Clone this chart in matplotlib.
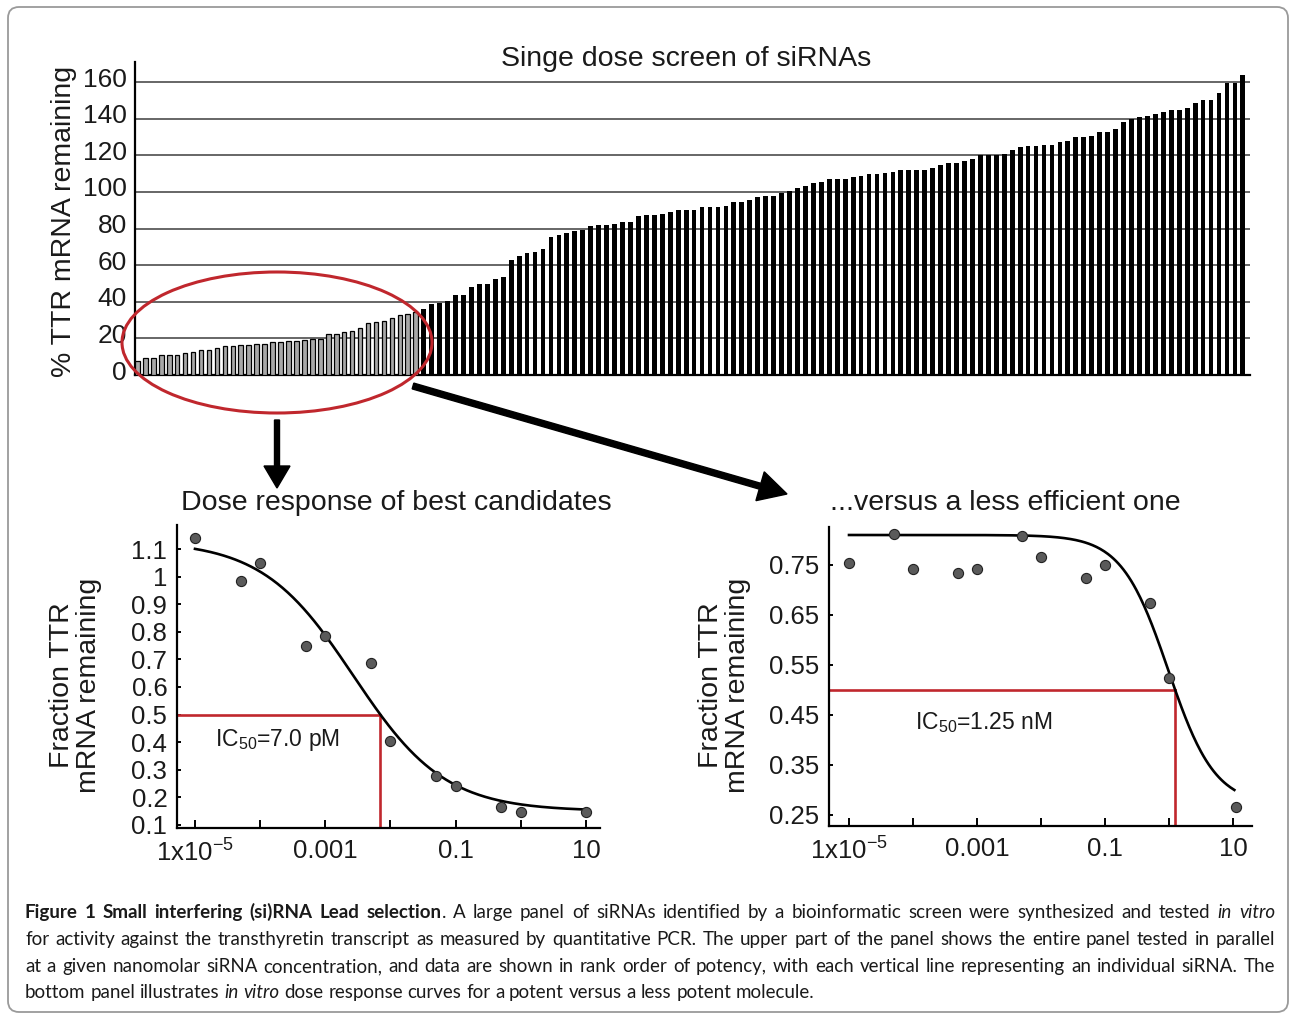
import numpy as np
import matplotlib
matplotlib.use("Agg")
import matplotlib.pyplot as plt
import matplotlib.transforms as mtransforms
from matplotlib import font_manager as fm
from matplotlib.font_manager import FontProperties
from matplotlib.patches import Ellipse, FancyBboxPatch

# ---------------- data ----------------
# single dose screen (% TTR mRNA remaining), rank ordered
screen_grey = [7.8, 9.3, 9.3, 10.7, 10.7, 10.7, 12.2, 12.7, 13.5, 13.5, 14.9, 15.6,
               15.6, 16.4, 16.4, 17.1, 17.1, 17.8, 17.8, 18.5, 18.5, 19.1, 19.8, 19.8,
               22.2, 22.2, 23.5, 24.2, 25.5, 28.2, 28.9, 29.6, 30.9, 32.7, 33.1, 34.5]
screen_black = [36.2, 38.7, 39.6, 40.5, 43.8, 43.8, 48.0, 49.5, 49.5, 52.4, 53.6, 62.9,
                64.9, 66.5, 67.1, 69.1, 75.6, 76.4, 77.6, 78.4, 79.1, 81.3, 82.0, 82.0,
                82.5, 83.5, 83.5, 86.9, 87.6, 87.6, 88.2, 88.9, 90.4, 90.4, 90.4, 91.8,
                91.8, 91.8, 92.5, 94.5, 94.5, 95.6, 97.1, 97.8, 97.8, 99.6, 100.5, 102.0,
                103.5, 104.7, 105.3, 106.9, 106.9, 106.9, 108.2, 108.9, 109.7, 109.7,
                110.4, 111.1, 111.8, 111.8, 111.8, 111.8, 113.3, 114.6, 115.8, 115.8,
                116.8, 118.2, 120.2, 120.2, 120.2, 120.9, 123.1, 124.4, 125.1, 125.1,
                125.9, 125.9, 127.5, 128.1, 130.1, 130.1, 130.6, 133.0, 133.0, 134.4,
                138.1, 139.7, 140.7, 141.3, 142.7, 143.5, 144.7, 144.7, 145.6, 148.4,
                150.5, 150.5, 154.0, 159.8, 159.8, 164.0]
screen_yticks = [0, 20, 40, 60, 80, 100, 120, 140, 160]

# dose response, best candidate (conc in nM)
best_conc = [1e-5, 5e-5, 1e-4, 5e-4, 1e-3, 5e-3, 1e-2, 5e-2, 0.1, 0.5, 1.0, 10.0]
best_frac = [1.140, 0.985, 1.048, 0.749, 0.786, 0.688, 0.406, 0.276, 0.243, 0.166, 0.146, 0.148]
best_fit = dict(top=1.13, bottom=0.15, logc=-2.567, hill=0.62)
best_ic50 = 0.007
best_yticks = [0.1, 0.2, 0.3, 0.4, 0.5, 0.6, 0.7, 0.8, 0.9, 1.0, 1.1]
best_yticklabels = ["0.1", "0.2", "0.3", "0.4", "0.5", "0.6", "0.7", "0.8", "0.9", "1", "1.1"]

# dose response, less efficient candidate
weak_conc = [1e-5, 5e-5, 1e-4, 5e-4, 1e-3, 5e-3, 1e-2, 5e-2, 0.1, 0.5, 1.0, 11.0]
weak_frac = [0.755, 0.813, 0.742, 0.734, 0.742, 0.809, 0.766, 0.725, 0.750, 0.674, 0.525, 0.266]
weak_fit = dict(top=0.81, bottom=0.27, logc=np.log10(0.973), hill=1.19)
weak_ic50 = 1.25
weak_yticks = [0.25, 0.35, 0.45, 0.55, 0.65, 0.75]

xticks = [1e-5, 1e-4, 1e-3, 1e-2, 1e-1, 1, 10]
xticklabels = ["1x10$^{-5}$", "", "0.001", "", "0.1", "", "10"]

# ---------------- style ----------------
plt.rcParams['font.family'] = ['Liberation Sans', 'DejaVu Sans']
plt.rcParams['mathtext.fontset'] = 'custom'
plt.rcParams['mathtext.rm'] = 'Liberation Sans'
plt.rcParams['mathtext.it'] = 'Liberation Sans:italic'
plt.rcParams['mathtext.bf'] = 'Liberation Sans:bold'
plt.rcParams['mathtext.default'] = 'regular'

TXT = '#1a1a1a'
RED = '#c0272d'
W, H = 1289, 1016

fig = plt.figure(figsize=(W / 100, H / 100), dpi=100)
fig.patch.set_facecolor('white')


def px_axes(left, top, right, bottom):
    return fig.add_axes([left / W, 1 - bottom / H, (right - left) / W, (bottom - top) / H])


# ---------------- top: screen ----------------
ax = px_axes(135, 62, 1250, 375)
vals = screen_grey + screen_black
x = np.arange(len(vals))
n_grey = len(screen_grey)
ax.bar(x[:n_grey], screen_grey, width=0.58, color='#a8a8a8', edgecolor='black',
       linewidth=0.9, zorder=3)
ax.bar(x[n_grey:], screen_black, width=0.6, color='black', edgecolor='black',
       linewidth=0, zorder=3)
ax.set_xlim(-0.3, 139.9)
ax.set_ylim(0, 171)
ax.set_yticks(screen_yticks)
ax.set_yticklabels([str(v) for v in screen_yticks])
ax.set_xticks([])
ax.tick_params(axis='y', length=0, pad=6, labelsize=19, labelcolor=TXT)
shift_up = mtransforms.ScaledTranslation(0, 5 / 100, fig.dpi_scale_trans)
for lab in ax.get_yticklabels():
    lab.set_transform(lab.get_transform() + shift_up)
ax.yaxis.grid(True, color='#4d4d4d', linewidth=1.2)
ax.set_axisbelow(True)
for s in ['top', 'right']:
    ax.spines[s].set_visible(False)
for s in ['left', 'bottom']:
    ax.spines[s].set_linewidth(1.6)
    ax.spines[s].set_color('black')
ax.set_ylabel('% TTR mRNA remaining', fontsize=20.5, color=TXT)
ax.yaxis.set_label_coords((77 - 135) / 1115, 0.49)


# ---------------- bottom panels ----------------
def four_pl(c, top, bottom, logc, hill):
    return bottom + (top - bottom) / (1 + (c / 10 ** logc) ** hill)


def dose_panel(box, conc, frac, fit, ic50, xlim, ylim, yticks, ylabels, label_x,
               ic_text, ic_xy, curve_end):
    a = px_axes(*box)
    a.set_xscale('log')
    a.set_xlim(*xlim)
    a.set_ylim(*ylim)
    cc = np.logspace(-5, np.log10(curve_end), 300)
    a.plot(cc, four_pl(cc, **fit), color='black', linewidth=1.9, zorder=3)
    a.plot([xlim[0], ic50], [0.5, 0.5], color=RED, linewidth=1.9, zorder=2)
    a.plot([ic50, ic50], [ylim[0], 0.5], color=RED, linewidth=1.9, zorder=2)
    a.plot(conc, frac, 'o', markersize=7.3, markerfacecolor='#5a5a5a',
           markeredgecolor='#222222', markeredgewidth=0.8, zorder=4, clip_on=False)
    a.set_xticks(xticks)
    a.set_xticklabels(xticklabels)
    a.xaxis.set_minor_locator(matplotlib.ticker.NullLocator())
    a.set_yticks(yticks)
    a.set_yticklabels(ylabels)
    a.tick_params(axis='x', direction='in', length=6, width=1.4, pad=8,
                  labelsize=18.5, labelcolor=TXT)
    a.tick_params(axis='y', direction='in', length=3, width=1.4, pad=7,
                  labelsize=18.5, labelcolor=TXT)
    for s in ['top', 'right']:
        a.spines[s].set_visible(False)
    for s in ['left', 'bottom']:
        a.spines[s].set_linewidth(1.6)
    a.set_ylabel('Fraction TTR\nmRNA remaining', fontsize=20.5, color=TXT,
                 linespacing=1.05)
    a.yaxis.set_label_coords(label_x, 0.47)
    a.text(ic_xy[0], ic_xy[1], ic_text, fontsize=16.5, color=TXT, va='center', ha='left')
    return a


dose_panel((177, 525, 600, 828), best_conc, best_frac, best_fit, best_ic50,
           (10 ** -5.276, 10 ** 1.215), (0.089, 1.187), best_yticks, best_yticklabels,
           (102 - 177) / 423, 'IC$_{50}$=7.0 pM', (10 ** -4.69, 0.408), 10.0)

dose_panel((829, 527, 1252, 826), weak_conc, weak_frac, weak_fit, weak_ic50,
           (10 ** -5.3125, 10 ** 1.297), (0.228, 0.826), weak_yticks,
           [f"{v:.2f}" for v in weak_yticks],
           (751 - 829) / 423, 'IC$_{50}$=1.25 nM', (10 ** -3.97, 0.434), 10.5)

# ---------------- overlay (pixel coordinates) ----------------
ov = fig.add_axes([0, 0, 1, 1], zorder=10)
ov.set_xlim(0, W)
ov.set_ylim(H, 0)
ov.axis('off')
ov.patch.set_alpha(0)

ov.add_patch(FancyBboxPatch((8, 7), 1280, 1005, boxstyle='round,pad=0,rounding_size=11',
                            facecolor='none', edgecolor='#9a9a9a', linewidth=1.3))

ov.text(686, 59, 'Singe dose screen of siRNAs', fontsize=20.5, color=TXT,
        ha='center', va='center')
ov.text(396, 503, 'Dose response of best candidates', fontsize=20.5, color=TXT,
        ha='center', va='center')
ov.text(1005, 503, '...versus a less efficient one', fontsize=20.5, color=TXT,
        ha='center', va='center')

ov.add_patch(Ellipse((277, 342.5), 310, 141, facecolor='none', edgecolor=RED,
                     linewidth=2.2))
ov.arrow(277, 420, 0, 68, width=5, head_width=26, head_length=22,
         length_includes_head=True, color='black')
ov.arrow(413, 386, 374, 108, width=6, head_width=30, head_length=28,
         length_includes_head=True, color='black')

# ---------------- caption ----------------
names = {f.name for f in fm.fontManager.ttflist}
cap_family = 'Lato' if 'Lato' in names else 'Liberation Sans'

caption_lines = [
    [("Figure 1 Small interfering (si)RNA Lead selection", 'b'),
     (". A large panel of siRNAs identified by a bioinformatic screen were synthesized and tested ", 'r'),
     ("in vitro", 'i')],
    [("for activity against the transthyretin transcript as measured by quantitative PCR. "
      "The upper part of the panel shows the entire panel tested in parallel", 'r')],
    [("at a given nanomolar siRNA concentration, and data are shown in rank order of potency, "
      "with each vertical line representing an individual siRNA. The", 'r')],
    [("bottom panel illustrates ", 'r'), ("in vitro", 'i'),
     (" dose response curves for a potent versus a less potent molecule.", 'r')],
]
cap_baselines = [918, 945, 972, 998]
cap_left, cap_right = 25, 1275


def split_words(segs):
    words, cur = [], []
    for txt, st in segs:
        parts = txt.split(' ')
        for i, p in enumerate(parts):
            if i > 0:
                if cur:
                    words.append(cur)
                cur = []
            if p:
                cur.append((p, st))
    if cur:
        words.append(cur)
    return words


def style_kw(st):
    return dict(weight='bold' if st == 'b' else 'normal',
                style='italic' if st == 'i' else 'normal')


renderer = fig.canvas.get_renderer()


def measure(s, st, size):
    t = ov.text(0, 0, s, fontsize=size, family=cap_family, **style_kw(st))
    w = t.get_window_extent(renderer).width
    t.remove()
    return w


def descent_fix(s, st, size):
    # compensate baseline drift for words whose descent exceeds that of "lp"
    fp = FontProperties(family=cap_family, size=size, **style_kw(st))
    _, _, d_w = renderer.get_text_width_height_descent(s, fp, ismath=False)
    _, _, d_lp = renderer.get_text_width_height_descent('lp', fp, ismath=False)
    return max(0.0, d_w - d_lp)


cap_size = 13.5
space_w = measure('a a', 'r', cap_size) - measure('aa', 'r', cap_size)
for _ in range(6):
    widest = 0
    for segs in caption_lines:
        ws = split_words(segs)
        tot = sum(measure(p, st, cap_size) for w_ in ws for p, st in w_) + space_w * (len(ws) - 1)
        widest = max(widest, tot)
    if widest <= cap_right - cap_left:
        break
    cap_size *= (cap_right - cap_left) / widest * 0.995
    space_w = measure('a a', 'r', cap_size) - measure('aa', 'r', cap_size)

for li, (segs, yb) in enumerate(zip(caption_lines, cap_baselines)):
    ws = split_words(segs)
    widths = [[measure(p, st, cap_size) for p, st in w_] for w_ in ws]
    total = sum(sum(w_) for w_ in widths)
    if li < len(caption_lines) - 1 and len(ws) > 1:
        gap = (cap_right - cap_left - total) / (len(ws) - 1)
    else:
        gap = space_w
    xpos = cap_left
    for w_, wl in zip(ws, widths):
        for (p, st), pw in zip(w_, wl):
            dy = descent_fix(p, st, cap_size)
            ov.text(xpos, yb - dy, p, fontsize=cap_size, family=cap_family, color=TXT,
                    va='baseline', ha='left', **style_kw(st))
            xpos += pw
        xpos += gap

fig.savefig('out.png', dpi=100)
